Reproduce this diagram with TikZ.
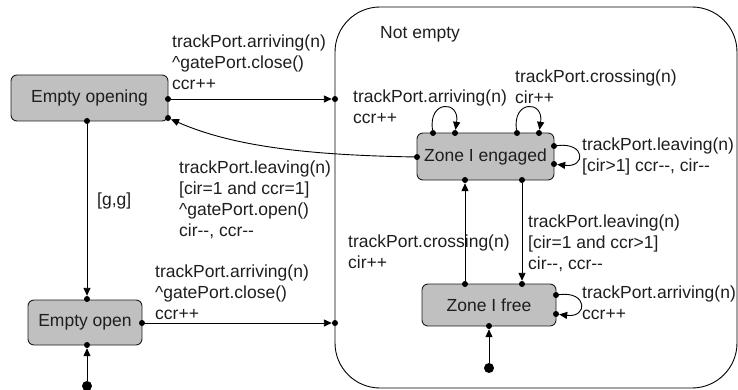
\documentclass[tikz,border=0pt]{standalone}
\usepackage{fontspec}
\setmainfont{Liberation Sans}[Ligatures=TeXOff]
\usetikzlibrary{arrows.meta}
\definecolor{stategray}{RGB}{192,192,192}
\definecolor{ink}{RGB}{30,30,30}
\begin{document}
\begin{tikzpicture}[x=1pt,y=-1pt,
  txt/.style={font=\fontsize{17.5}{21}\selectfont, text=ink},
  state/.style={draw=ink, line width=0.9pt, fill=stategray, rounded corners=6pt, inner sep=0pt, txt},
  pt/.style={circle, fill=black, inner sep=0pt, minimum size=6pt},
  init/.style={circle, fill=black, inner sep=0pt, minimum size=10pt},
  lbl/.style={txt, align=left, anchor=north west, inner sep=0pt},
  tr/.style={-{Triangle[length=8pt,width=7pt]}, line width=0.9pt, draw=black},
  ln/.style={line width=0.9pt, draw=black}]
\useasboundingbox (0,0) rectangle (738,390);

% composite state
\node[draw=black, line width=0.9pt, rounded corners=45pt, minimum width=402pt, minimum height=381pt, inner sep=0pt] (notempty) at (536,197.5) {};

% states
\node[state, minimum width=157pt, minimum height=46pt] (eopening) at (89.5,98) {Empty opening};
\node[state, minimum width=114pt, minimum height=45pt] (eopen) at (85,322.5) {Empty open};
\node[state, minimum width=137pt, minimum height=47pt] (zeng) at (485.5,156.5) {Zone I engaged};
\node[state, minimum width=134pt, minimum height=42pt] (zfree) at (489,305) {Zone I free};

% connection points
\node[pt] (d1) at (168,99) {};
\node[pt] (d2) at (168,118) {};
\node[pt] (d3) at (87,121) {};
\node[pt] (ne1) at (335,99) {};
\node[pt] (ne2) at (335,323) {};
\node[pt] (d4) at (87,299) {};
\node[pt] (d5) at (142,323) {};
\node[pt] (d6) at (87,345) {};
\node[init] (i1) at (87,386) {};
\node[pt] (z1) at (417,157) {};
\node[pt] (z2) at (433,133) {};
\node[pt] (z3) at (455,133) {};
\node[pt] (z4) at (517,133) {};
\node[pt] (z5) at (539,133) {};
\node[pt] (z6) at (554,146) {};
\node[pt] (z7) at (554,164) {};
\node[pt] (z8) at (465,180) {};
\node[pt] (z9) at (522,180) {};
\node[pt] (f1) at (465,284) {};
\node[pt] (f2) at (522,284) {};
\node[pt] (f3) at (556,295) {};
\node[pt] (f4) at (556,314) {};
\node[pt] (f5) at (489,326) {};
\node[init] (i2) at (489,368) {};

% transitions
\draw[tr] (d1) -- (ne1);
\draw[tr] (d5) -- (ne2);
\draw[tr] (d3) -- (d4);
\draw[tr] (i1) -- (d6);
\draw[tr] (i2) -- (f5);
\draw[tr] (z1) .. controls (300,155) and (230,145) .. (d2);
\draw[tr] (z2) .. controls (428,100) and (460,100) .. (z3);
\draw[tr] (z4) .. controls (512,100) and (544,100) .. (z5);
\draw[tr] (z6) .. controls (586,142) and (586,168) .. (z7);
\draw[tr] (f3) .. controls (588,291) and (588,318) .. (f4);
\draw[tr] (f1) -- (z8);
\draw[tr] (z9) -- (f2);

% labels
\node[lbl] (l1) at (172,35) {trackPort.arriving(n)\\\textasciicircum gatePort.close()\\ccr++};
\node[lbl] (l2) at (179,161) {trackPort.leaving(n)\\{[cir=1 and ccr=1]}\\\textasciicircum gatePort.open()\\cir--, ccr--};
\node[lbl] (l3) at (97,193) {[g,g]};
\node[lbl] (l4) at (155,265) {trackPort.arriving(n)\\\textasciicircum gatePort.close()\\ccr++};
\node[lbl] (l5) at (380,26) {Not empty};
\node[lbl] (l6) at (353,90) {trackPort.arriving(n)\\ccr++};
\node[lbl] (l7) at (515,70) {trackPort.crossing(n)\\cir++};
\node[lbl] (l8) at (582,138) {trackPort.leaving(n)\\{[cir>1] ccr--, cir--}};
\node[lbl] (l9) at (348,235) {trackPort.crossing(n)\\cir++};
\node[lbl] (l10) at (528,215) {trackPort.leaving(n)\\{[cir=1 and ccr>1]}\\cir--, ccr--};
\node[lbl] (l11) at (582,286) {trackPort.arriving(n)\\ccr++};
\end{tikzpicture}
\end{document}
